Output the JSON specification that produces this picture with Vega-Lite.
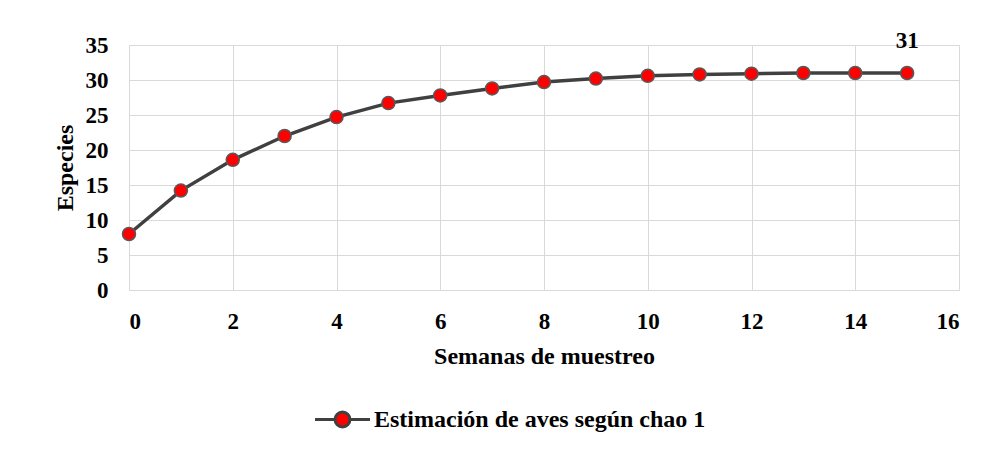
{
  "$schema": "https://vega.github.io/schema/vega-lite/v6.json",
  "width": 830,
  "height": 245,
  "autosize": {"type": "none"},
  "padding": {"left": 129, "top": 45, "right": 30, "bottom": 160},
  "background": "white",
  "config": {
    "font": "Liberation Serif",
    "view": {"stroke": "#d9d9d9", "strokeWidth": 1},
    "axis": {
      "labelFont": "Liberation Serif",
      "labelFontWeight": "bold",
      "labelFontSize": 23,
      "labelColor": "black",
      "titleFont": "Liberation Serif",
      "titleFontWeight": "bold",
      "titleFontSize": 24,
      "titleColor": "black",
      "gridColor": "#d9d9d9",
      "gridWidth": 1,
      "ticks": false,
      "domain": false
    }
  },
  "data": {
    "values": [
      {"semana": 0, "especies": 8.0},
      {"semana": 1, "especies": 14.2},
      {"semana": 2, "especies": 18.6},
      {"semana": 3, "especies": 22.0},
      {"semana": 4, "especies": 24.7},
      {"semana": 5, "especies": 26.7},
      {"semana": 6, "especies": 27.8},
      {"semana": 7, "especies": 28.8},
      {"semana": 8, "especies": 29.7},
      {"semana": 9, "especies": 30.2},
      {"semana": 10, "especies": 30.6},
      {"semana": 11, "especies": 30.8},
      {"semana": 12, "especies": 30.9},
      {"semana": 13, "especies": 31.0},
      {"semana": 14, "especies": 31.0},
      {"semana": 15, "especies": 31.0}
    ]
  },
  "encoding": {
    "x": {
      "field": "semana",
      "type": "quantitative",
      "scale": {"domain": [0, 16], "nice": false},
      "axis": {"values": [0, 2, 4, 6, 8, 10, 12, 14, 16], "title": "Semanas de muestreo", "labelPadding": 20, "titlePadding": 11}
    },
    "y": {
      "field": "especies",
      "type": "quantitative",
      "scale": {"domain": [0, 35], "nice": false},
      "axis": {"values": [0, 5, 10, 15, 20, 25, 30, 35], "title": "Especies", "labelPadding": 21, "titlePadding": 8}
    }
  },
  "layer": [
    {
      "mark": {"type": "line", "strokeWidth": 3.5},
      "encoding": {
        "color": {
          "datum": "Estimación de aves según chao 1",
          "type": "nominal",
          "scale": {"range": ["#404040"]},
          "legend": {
            "title": null,
            "orient": "none",
            "legendX": 201,
            "legendY": 362,
            "labelFont": "Liberation Serif",
            "labelFontWeight": "bold",
            "labelFontSize": 24,
            "labelColor": "black",
            "labelLimit": 0,
            "labelOffset": 19,
            "symbolType": "M-2.5,0H-0.68M0.68,0H2.5M0.68,0A0.68,0.68 0 1,1 -0.68,0A0.68,0.68 0 1,1 0.68,0Z",
            "symbolSize": 484,
            "symbolStrokeWidth": 3,
            "encode": {
              "symbols": {"update": {"fill": {"value": "#ff0000"}, "stroke": {"value": "#404040"}, "strokeWidth": {"value": 3}}}
            }
          }
        }
      }
    },
    {
      "mark": {"type": "point", "filled": true, "size": 170, "fill": "#ff0000", "stroke": "#595959", "strokeWidth": 1.5, "opacity": 1}
    },
    {
      "transform": [{"filter": "datum.semana == 15"}],
      "mark": {"type": "text", "baseline": "alphabetic", "dy": -25, "fontSize": 23, "fontWeight": "bold", "font": "Liberation Serif", "color": "black"},
      "encoding": {"text": {"field": "especies", "type": "quantitative", "format": ".0f"}}
    }
  ]
}
